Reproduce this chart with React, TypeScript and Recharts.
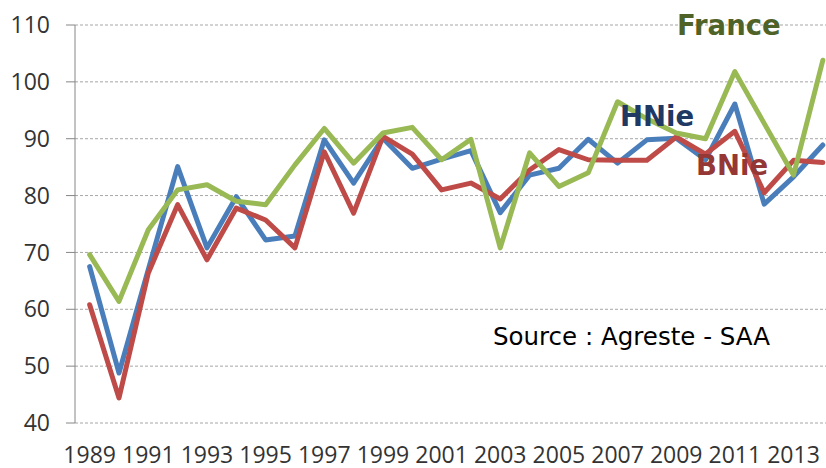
import React from 'react';
import { LineChart, Line, XAxis, YAxis, CartesianGrid } from 'recharts';

const years = [1989, 1990, 1991, 1992, 1993, 1994, 1995, 1996, 1997, 1998, 1999, 2000, 2001, 2002, 2003, 2004, 2005, 2006, 2007, 2008, 2009, 2010, 2011, 2012, 2013, 2014];
const hnie = [67.5, 48.8, 67, 85.1, 70.8, 79.8, 72.2, 72.9, 89.8, 82.2, 90.1, 84.8, 86.4, 87.9, 77, 83.6, 84.8, 89.9, 85.7, 89.8, 90.1, 86.3, 96.1, 78.5, 83.3, 88.9];
const bnie = [60.8, 44.4, 66.4, 78.4, 68.7, 77.8, 75.7, 70.8, 87.7, 76.9, 90.4, 87.3, 81, 82.2, 79.4, 84.5, 88.1, 86.3, 86.2, 86.2, 90.3, 87.3, 91.3, 80.5, 86.2, 85.8];
const france = [69.6, 61.4, 74, 81, 81.9, 79, 78.4, 85.4, 91.8, 85.7, 91, 92, 86.3, 89.9, 70.8, 87.5, 81.6, 84, 96.5, 93.5, 91, 90, 101.8, 92.7, 83.6, 103.8];
const yTicks = [40, 50, 60, 70, 80, 90, 100, 110];
const labelYears = [1989, 1991, 1993, 1995, 1997, 1999, 2001, 2003, 2005, 2007, 2009, 2011, 2013];
const boundaryTicks = [...years.map((y) => y - 0.5), 2014.5];

const data = years.map((year, i) => ({ year, HNie: hnie[i], BNie: bnie[i], France: france[i] }));

const tickFont = { fontFamily: '"Open Sans", sans-serif', fontSize: 23, fill: '#333333' };

export default function App() {
  return (
    <div style={{ position: 'absolute', left: 0, top: 0, width: 826, height: 468, overflow: 'hidden', background: '#fff' }}>
      <LineChart width={850} height={468} data={data} margin={{ top: 25, right: 12.5, left: 0, bottom: 0 }}>
        <CartesianGrid vertical={false} stroke="#a6a6a6" strokeDasharray="3 2" />
        <XAxis
          xAxisId={0}
          type="number"
          dataKey="year"
          domain={[1988.5, 2014.5]}
          ticks={boundaryTicks}
          tickFormatter={() => ''}
          tickSize={10}
          height={0}
          stroke="#868686"
          tickLine={{ stroke: '#868686' }}
          axisLine={{ stroke: '#868686' }}
          allowDataOverflow
        />
        <XAxis
          xAxisId={1}
          type="number"
          dataKey="year"
          domain={[1988.5, 2014.5]}
          ticks={labelYears}
          tickLine={false}
          axisLine={false}
          tickSize={0}
          tickMargin={24}
          height={45}
          tick={tickFont}
          interval={0}
          allowDataOverflow
        />
        <YAxis
          width={75}
          domain={[40, 110]}
          ticks={yTicks}
          interval={0}
          tickSize={9}
          tickMargin={16}
          stroke="#868686"
          tick={tickFont}
        />
        <Line type="linear" dataKey="HNie" stroke="#4A7EBB" strokeWidth={5} dot={false} strokeLinejoin="round" strokeLinecap="round" isAnimationActive={false} />
        <Line type="linear" dataKey="BNie" stroke="#BE4B48" strokeWidth={5} dot={false} strokeLinejoin="round" strokeLinecap="round" isAnimationActive={false} />
        <Line type="linear" dataKey="France" stroke="#98B954" strokeWidth={5} dot={false} strokeLinejoin="round" strokeLinecap="round" isAnimationActive={false} />
      </LineChart>
      <svg width={826} height={468} style={{ position: 'absolute', left: 0, top: 0, pointerEvents: 'none' }}>
        <text x={677} y={35} fontFamily='"DejaVu Sans", sans-serif' fontWeight="bold" fontSize={27.5} fill="#4F6228">France</text>
        <text x={620} y={126} fontFamily='"DejaVu Sans", sans-serif' fontWeight="bold" fontSize={27.5} fill="#1F3864">HNie</text>
        <text x={696} y={175} fontFamily='"DejaVu Sans", sans-serif' fontWeight="bold" fontSize={27.5} fill="#953735">BNie</text>
        <text x={493} y={345} fontFamily='"DejaVu Sans", sans-serif' fontSize={24.5} fill="#000000">Source : Agreste - SAA</text>
      </svg>
    </div>
  );
}
